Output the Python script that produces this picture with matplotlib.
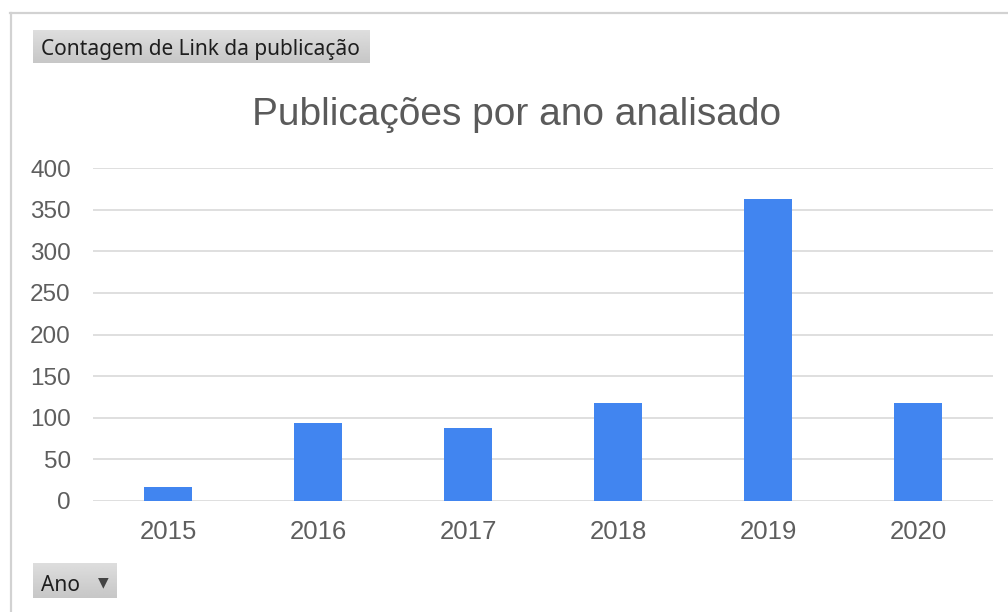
import numpy as np
import matplotlib
matplotlib.use("Agg")
import matplotlib.pyplot as plt
from matplotlib.lines import Line2D

# publicações por ano
anos = ["2015", "2016", "2017", "2018", "2019", "2020"]
contagem = [16, 93, 88, 117, 363, 117]
y_ticks = [0, 50, 100, 150, 200, 250, 300, 350, 400]

BAR_COLOR = "#4185f0"
GRID_COLOR = "#dcdcdc"
TEXT_GRAY = "#5e5e5e"
W, H = 1008, 612


def px(x, y):
    """pixel coords (top-left origin) -> figure fraction"""
    return x / W, 1 - y / H


def button(fig, x0, y0, x1, y1):
    # gray field button with a soft vertical gradient
    l, t = px(x0, y0)
    r, b = px(x1, y1)
    bax = fig.add_axes([l, b, r - l, t - b])
    grad = np.linspace(0.87, 0.78, 50).reshape(-1, 1)
    bax.imshow(grad, aspect="auto", cmap="gray", vmin=0, vmax=1,
               extent=[0, 1, 0, 1])
    bax.set_xlim(0, 1)
    bax.set_ylim(0, 1)
    bax.axis("off")
    return bax


plt.rcParams['font.family'] = ['Liberation Sans', 'DejaVu Sans']

fig = plt.figure(figsize=(W / 100, H / 100), dpi=100)

l, t = px(93, 168.3)
r, b = px(993, 500.7)
ax = fig.add_axes([l, b, r - l, t - b])

x = np.arange(len(anos))
ax.bar(x, contagem, width=0.32, color=BAR_COLOR, zorder=3)

ax.set_xlim(-0.5, len(anos) - 0.5)
ax.set_ylim(0, 400)
ax.set_yticks(y_ticks)
ax.set_xticks(x)
ax.set_xticklabels(anos)
ax.grid(axis="y", color=GRID_COLOR, linewidth=1.3, zorder=0)
ax.tick_params(axis="both", length=0, labelcolor=TEXT_GRAY)
ax.tick_params(axis="y", pad=16, labelsize=17.5)
ax.tick_params(axis="x", pad=14, labelsize=18.5)
for s in ax.spines.values():
    s.set_visible(False)

tx, ty = px(517, 125)
fig.text(tx, ty, "Publicações por ano analisado", ha="center", va="baseline",
         fontsize=28, color="#5a5a5a")

# outer frame: top and left edges only
fig.add_artist(Line2D([10 / W, 1], [1 - 12.5 / H] * 2, color="#d2d2d2",
                      linewidth=1.6, transform=fig.transFigure))
fig.add_artist(Line2D([11 / W] * 2, [0, 1 - 12.5 / H], color="#d2d2d2",
                      linewidth=1.6, transform=fig.transFigure))

# field buttons
button(fig, 33, 30, 370, 63)
bx, by = px(41, 55)
fig.text(bx, by, "Contagem de Link da publicação", ha="left", va="baseline",
         fontsize=15, color="#1e1e1e", family=["Noto Sans", "DejaVu Sans"])

button(fig, 33, 563, 117, 598)
bx, by = px(41, 591)
fig.text(bx, by, "Ano", ha="left", va="baseline",
         fontsize=15, color="#1e1e1e", family=["Noto Sans", "DejaVu Sans"])
bx, by = px(103.5, 582)
fig.text(bx, by, "▼", ha="center", va="center",
         fontsize=10, color="#444444", family=["DejaVu Sans"])

fig.savefig("out.png", dpi=100, facecolor="white")
